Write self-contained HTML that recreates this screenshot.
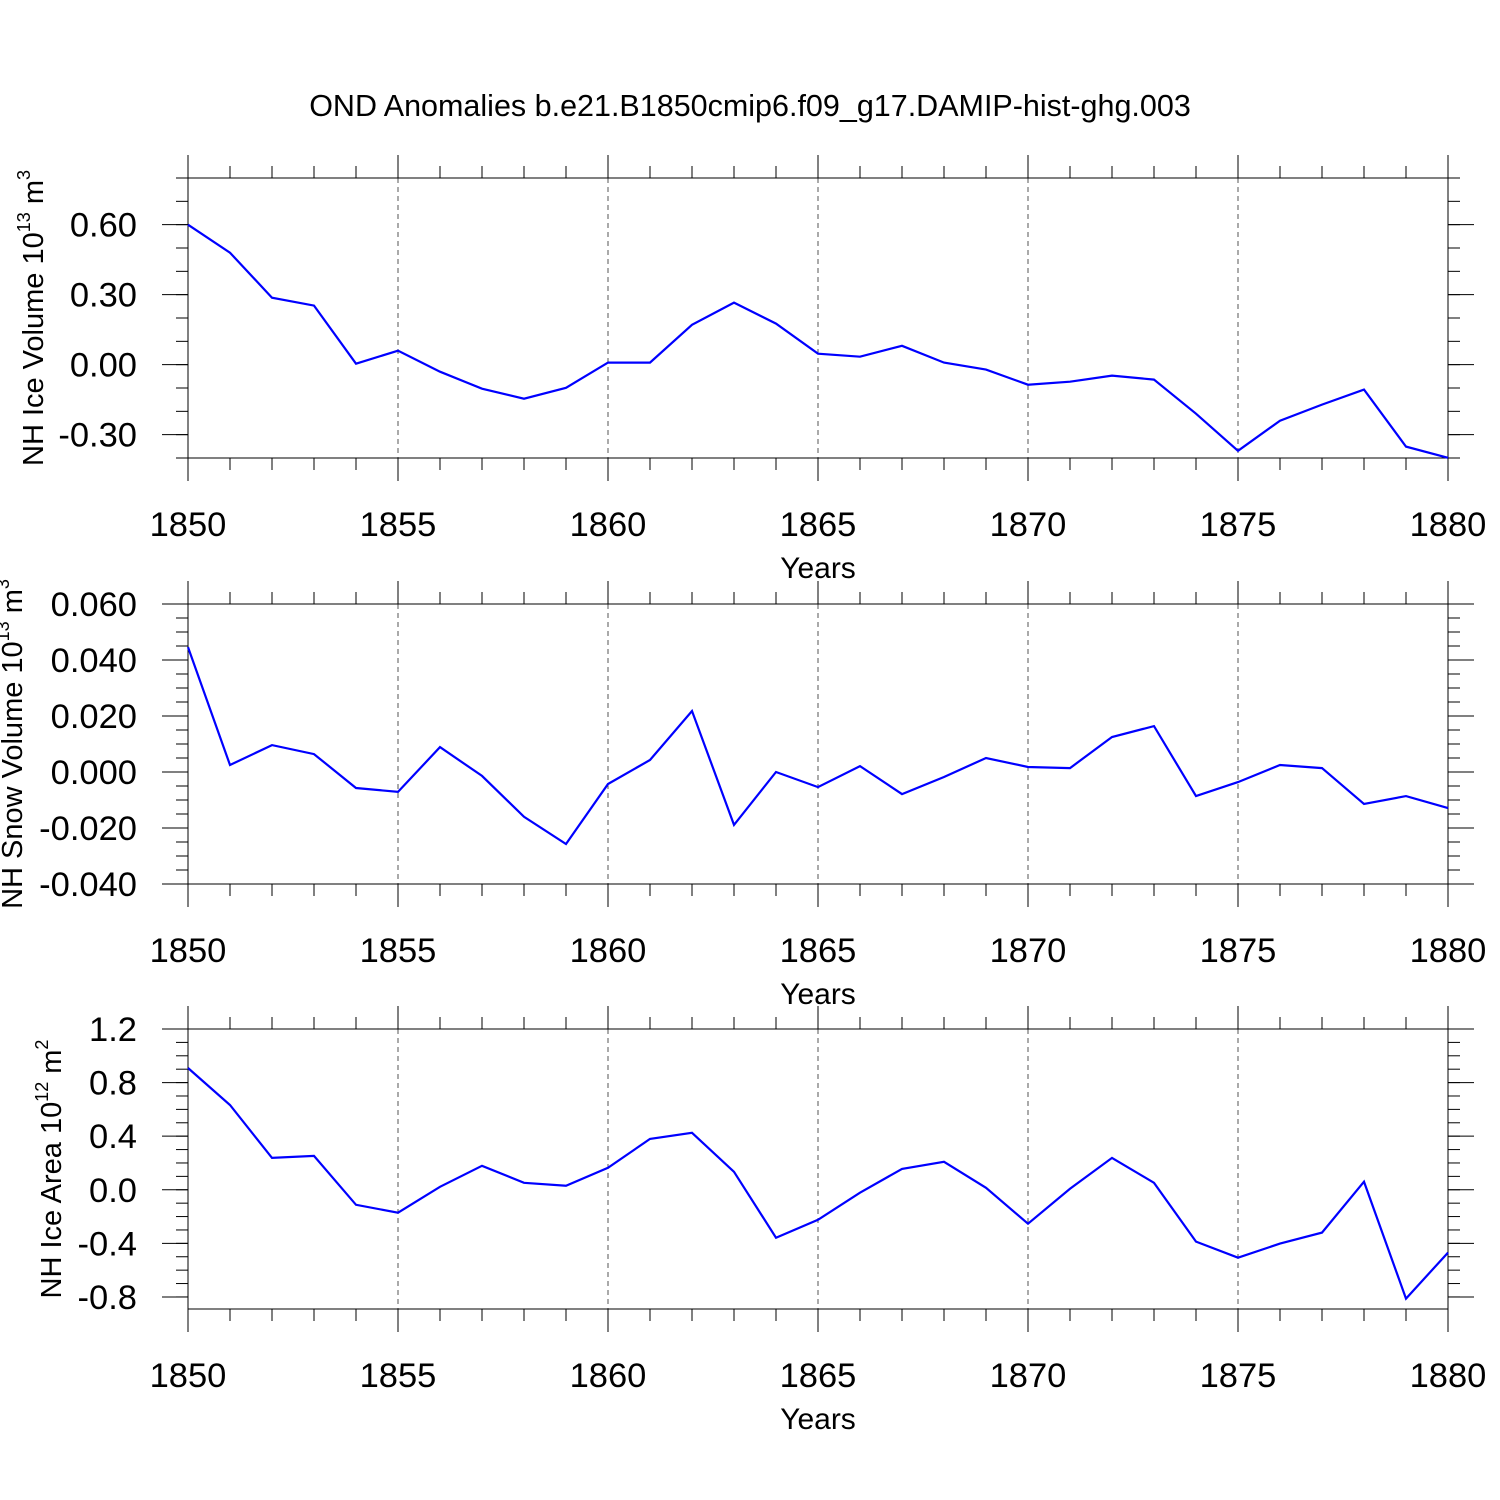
<!DOCTYPE html>
<html><head><meta charset="utf-8">
<style>
html,body{margin:0;padding:0;background:#fff;}
svg{display:block;font-family:"Liberation Sans",Arial,sans-serif;}
</style></head>
<body>
<svg id="chart" width="1500" height="1500" viewBox="0 0 1500 1500" xmlns="http://www.w3.org/2000/svg">
<text x="750" y="116" font-size="30.5" text-anchor="middle">OND Anomalies b.e21.B1850cmip6.f09_g17.DAMIP-hist-ghg.003</text>
</svg>
<script>
const years = [];
for (let y = 1850; y <= 1880; y++) years.push(y);
const iceVolume = [0.60,0.48,0.287,0.253,0.004,0.06,-0.03,-0.103,-0.146,-0.099,0.009,0.009,0.171,0.266,0.176,0.047,0.034,0.081,0.009,-0.021,-0.086,-0.073,-0.047,-0.064,-0.21,-0.369,-0.24,-0.171,-0.107,-0.351,-0.399];
const snowVolume = [0.0446,0.0025,0.0096,0.0064,-0.0057,-0.0071,0.0089,-0.0014,-0.016,-0.0257,-0.0043,0.0043,0.0218,-0.0189,0,-0.0054,0.0021,-0.0079,-0.0018,0.005,0.0018,0.0014,0.0125,0.0164,-0.0086,-0.0036,0.0025,0.0014,-0.0114,-0.0086,-0.0129];
const iceArea = [0.909,0.633,0.238,0.253,-0.112,-0.171,0.022,0.179,0.052,0.03,0.164,0.38,0.425,0.134,-0.358,-0.224,-0.022,0.156,0.209,0.015,-0.253,0.007,0.238,0.052,-0.387,-0.507,-0.402,-0.32,0.06,-0.812,-0.469];
const xTickLabels = ["1850","1855","1860","1865","1870","1875","1880"];
const iceVolTicks = [-0.3,0,0.3,0.6];
const iceVolLabels = ["-0.30","0.00","0.30","0.60"];
const snowTicks = [-0.04,-0.02,0,0.02,0.04,0.06];
const snowLabels = ["-0.040","-0.020","0.000","0.020","0.040","0.060"];
const areaTicks = [-0.8,-0.4,0,0.4,0.8,1.2];
const areaLabels = ["-0.8","-0.4","0.0","0.4","0.8","1.2"];

const svg = document.getElementById('chart');
const NS = 'http://www.w3.org/2000/svg';
function mk(tag, attrs, parent){
  const e = document.createElementNS(NS, tag);
  for (const k in attrs) e.setAttribute(k, attrs[k]);
  (parent||svg).appendChild(e);
  return e;
}
const X0=188, X1=1448;
function xs(yr){ return X0 + (yr-1850)/(1880-1850)*(X1-X0); }

function panel(cfg){
  const g = mk('g', {});
  
  
  const T=cfg.top, B=cfg.top+280;
  const ys = v => B - (v-cfg.min)/(cfg.max-cfg.min)*(B-T);
  for (let yr=1855; yr<1880; yr+=5){
    const l = mk('line',{x1:xs(yr),x2:xs(yr),y1:T,y2:B,stroke:'#555','stroke-width':1,'stroke-dasharray':'5,4'},g);
    
    
  }
  for (let yr=1850; yr<=1880; yr++){
    const major = (yr%5===0);
    const len = major?23:12;
    mk('line',{x1:xs(yr),x2:xs(yr),y1:T-len,y2:T,stroke:'#000','stroke-width':1},g);
    mk('line',{x1:xs(yr),x2:xs(yr),y1:B,y2:B+len,stroke:'#000','stroke-width':1},g);
  }
  xTickLabels.forEach(s=>{
    const t = mk('text',{x:xs(+s),y:B+78,'font-size':34.5,'text-anchor':'middle'},g);
    
    
    t.textContent=s;
  });
  const xt = mk('text',{x:818,y:B+120,'font-size':30,'text-anchor':'middle'},g);
  
  
  xt.textContent='Years';
  for (let v=Math.ceil(cfg.min/cfg.minor-1e-6)*cfg.minor; v<=cfg.max+1e-9; v+=cfg.minor){
    const y=ys(v);
    if (y<T-0.5||y>B+0.5) continue;
    mk('line',{x1:X0-12,x2:X0,y1:y,y2:y,stroke:'#000','stroke-width':1},g);
    mk('line',{x1:X1,x2:X1+12,y1:y,y2:y,stroke:'#000','stroke-width':1},g);
  }
  cfg.ticks.forEach((v,i)=>{
    const y=ys(v);
    mk('line',{x1:X0-26,x2:X0,y1:y,y2:y,stroke:'#000','stroke-width':1},g);
    mk('line',{x1:X1,x2:X1+26,y1:y,y2:y,stroke:'#000','stroke-width':1},g);
    const t = mk('text',{x:137,y:y+12,'font-size':34.5,'text-anchor':'end'},g);
    
    
    t.textContent=cfg.labels[i];
  });
  const r = mk('rect',{x:X0,y:T,width:X1-X0,height:B-T,fill:'none',stroke:'#000','stroke-width':1},g);
  
  
  const pts = cfg.data.map((v,i)=>xs(years[i]).toFixed(1)+','+ys(v).toFixed(1)).join(' ');
  const p = mk('polyline',{points:pts,fill:'none',stroke:'#0000ff','stroke-width':2.2,'stroke-linejoin':'miter'},g);
  
  
  const yt = mk('text',{transform:`translate(${cfg.tx},${T+cfg.cy}) rotate(-90)`,'font-size':29,'text-anchor':'middle'},g);
  
  
  yt.innerHTML = cfg.title;
}
panel({name:'ice-volume-panel',top:178,min:-0.4,max:0.8,minor:0.1,ticks:iceVolTicks,labels:iceVolLabels,data:iceVolume,tx:43,cy:140,
  title:'NH Ice Volume 10<tspan font-size="18" dy="-13">13</tspan><tspan dy="13"> m</tspan><tspan font-size="18" dy="-13">3</tspan>'});
panel({name:'snow-volume-panel',top:604,min:-0.04,max:0.06,minor:0.005,ticks:snowTicks,labels:snowLabels,data:snowVolume,tx:22,cy:140,
  title:'NH Snow Volume 10<tspan font-size="18" dy="-13">13</tspan><tspan dy="13"> m</tspan><tspan font-size="18" dy="-13">3</tspan>'});
panel({name:'ice-area-panel',top:1029,min:-0.89,max:1.2,minor:0.1,ticks:areaTicks,labels:areaLabels,data:iceArea,tx:61,cy:140,
  title:'NH Ice Area 10<tspan font-size="18" dy="-13">12</tspan><tspan dy="13"> m</tspan><tspan font-size="18" dy="-13">2</tspan>'});
</script>
</body></html>
